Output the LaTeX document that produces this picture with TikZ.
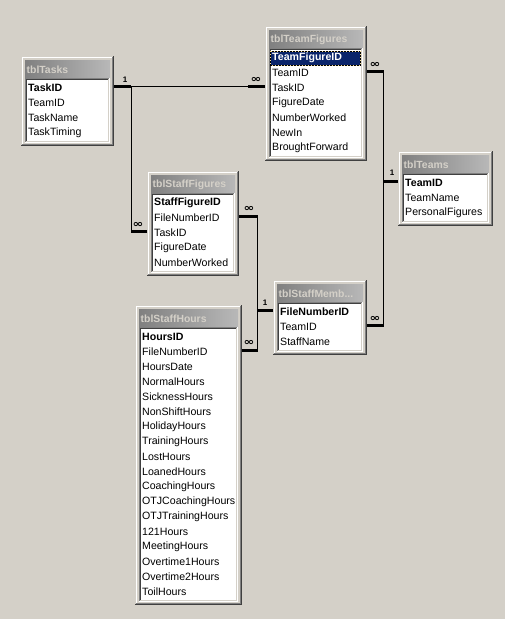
\documentclass[tikz,border=0pt]{standalone}
\usepackage{fontspec}
\setmainfont{Liberation Sans}
\newfontfamily\dejavu{DejaVu Sans}
\usetikzlibrary{fit,calc}
\definecolor{cD4}{HTML}{D4D0C8}
\definecolor{c40}{HTML}{404040}
\definecolor{c80}{HTML}{808080}
\definecolor{cC0}{HTML}{B8B8B8}
\definecolor{hlblue}{HTML}{0A246A}
\definecolor{focusy}{HTML}{F5DB95}
\tikzset{
  px/.style={line width=1pt},
  rowtext/.style={anchor=west,inner sep=0pt,font=\fontsize{10.6}{12}\selectfont},
  titletext/.style={anchor=west,inner sep=0pt,text=cD4,font=\fontsize{10.4}{13}\selectfont\bfseries},
  tblnode/.style={inner sep=0pt,draw=none},
  stub/.style={line width=3pt,line cap=butt},
  rel/.style={line width=1pt},
  onelbl/.style={inner sep=0pt,font=\fontsize{8}{9}\selectfont\bfseries},
  manylbl/.style={inner sep=0pt,xscale=1.3,font=\dejavu\fontsize{10}{10}\selectfont\bfseries}
}
\newcommand\acctbl[7]{%
  \pgfmathsetmacro\ya{#4-32}%
  \pgfmathsetmacro\yb{#4+15*(#5-1)+13}%
  \pgfmathsetmacro\lt{#4-10}%
  \pgfmathsetmacro\lb{#4+15*(#5-1)+10}%
  \node[tblnode,fit={(#2,\ya) (#3,\yb)}] (#1) {};
  \fill[cD4] (#2,\ya) rectangle (#3,\yb);
  \draw[px,white] (#2+1.5,\yb-2) -- (#2+1.5,\ya+1.5) -- (#3-2,\ya+1.5);
  \draw[px,c40] (#2,\yb-0.5) -- (#3-0.5,\yb-0.5) -- (#3-0.5,\ya);
  \draw[px,c80] (#2+1,\yb-1.5) -- (#3-1.5,\yb-1.5) -- (#3-1.5,\ya+1);
  \shade[left color=c80,right color=cC0] (#2+4,\ya+4) rectangle (#3-4,\ya+22);
  \node[titletext] (#1-title) at (#2+5.5,\ya+13.5) {#6};
  \fill[white] (#2+4,\lt) rectangle (#3-4,\lb);
  \draw[px,c80] (#2+4.5,\lb) -- (#2+4.5,\lt+0.5) -- (#3-4,\lt+0.5);
  \draw[px,c40] (#2+5.5,\lb-1) -- (#2+5.5,\lt+1.5) -- (#3-5,\lt+1.5);
  \draw[px,white] (#2+4,\lb-0.5) -- (#3-4.5,\lb-0.5) -- (#3-4.5,\lt);
  \draw[px,cD4] (#2+5,\lb-1.5) -- (#3-5.5,\lb-1.5) -- (#3-5.5,\lt+1);
  \foreach \t [count=\i] in {#7}{%
    \pgfmathsetmacro\ry{#4+15*(\i-1)}%
    \node[rowtext] (#1-\i) at (#2+7,\ry) {\ifnum\i=1 \bfseries\fi\t};
    \coordinate (#1-\i-L) at (#2,\ry-2);
    \coordinate (#1-\i-R) at (#3,\ry-2);
  }%
}
\begin{document}
\begin{tikzpicture}[x=1pt,y=-1pt]
\useasboundingbox (0,0) rectangle (505,619);
\fill[cD4] (0,0) rectangle (505,619);

\acctbl{tasks}{21}{114}{88}{4}{tblTasks}{TaskID,TeamID,TaskName,TaskTiming}
\acctbl{tf}{265}{367}{58}{7}{tblTeamFigures}{TeamFigureID,TeamID,TaskID,FigureDate,NumberWorked,NewIn,BroughtForward}
\acctbl{sf}{147}{239}{203}{5}{tblStaffFigures}{StaffFigureID,FileNumberID,TaskID,FigureDate,NumberWorked}
\acctbl{tm}{398}{493}{183}{3}{tblTeams}{TeamID,TeamName,PersonalFigures}
\acctbl{sm}{273}{367}{312}{3}{tblStaffMemb...}{FileNumberID,TeamID,StaffName}
\acctbl{sh}{135}{242}{337}{18}{tblStaffHours}{HoursID,FileNumberID,HoursDate,NormalHours,SicknessHours,NonShiftHours,HolidayHours,TrainingHours,LostHours,LoanedHours,CoachingHours,OTJCoachingHours,OTJTrainingHours,121Hours,MeetingHours,Overtime1Hours,Overtime2Hours,ToilHours}

% highlighted first row of tblTeamFigures
\fill[hlblue] (270,50.5) rectangle (361,65.5);
\draw[px,black] (270.5,51) rectangle (360.5,65);
\draw[px,focusy,dotted] (270.5,51) rectangle (360.5,65);
\node[rowtext,text=white,font=\fontsize{10.6}{12}\selectfont\bfseries] (tf-1h) at (272,58) {TeamFigureID};

% relationships
% tblTasks.TaskID -> tblTeamFigures.TaskID
\draw[stub] (tasks-1-R) -- ++(17,0) coordinate (a1);
\draw[stub] (tf-3-L) -- ++(-17,0) coordinate (a2);
\draw[rel] (a1) -- (a2);
\node[onelbl] (l1) at ($(tasks-1-R)+(11,-6)$) {1};
\node[manylbl] (m1) at ($(tf-3-L)+(-9,-6)$) {∞};

% tblTasks.TaskID -> tblStaffFigures.TaskID
\draw[stub] (sf-3-L) -- ++(-16,0) coordinate (b2);
\draw[rel] (a1) |- (b2);
\node[manylbl] (m2) at ($(sf-3-L)+(-9,-6)$) {∞};

% tblStaffFigures.FileNumberID -> tblStaffMembers.FileNumberID
\draw[stub] (sf-2-R) -- ++(18.5,0) coordinate (c1);
\draw[stub] (sm-1-L) -- ++(-15.5,0) coordinate (c2);
\draw[rel] (c1) |- (c2);
\node[manylbl] (m3) at ($(sf-2-R)+(10,-7)$) {∞};
\node[onelbl] (l2) at ($(sm-1-L)+(-8,-7)$) {1};

% tblStaffMembers.FileNumberID -> tblStaffHours.FileNumberID
\draw[stub] (sh-2-R) -- ++(15.5,0) coordinate (d1);
\draw[rel] (c2) |- (d1);
\node[manylbl] (m4) at ($(sh-2-R)+(7,-7)$) {∞};

% tblTeams.TeamID -> tblStaffMembers.TeamID and tblTeamFigures.TeamID
\draw[stub] (sm-2-R) -- ++(16.5,0) coordinate (e1);
\draw[stub] (tm-1-L) -- ++(-15.5,0) coordinate (e2);
\draw[stub] (tf-2-R) -- ++(16.5,0) coordinate (f1);
\draw[rel] (e1) |- (e2);
\draw[rel] (f1) |- (e2);
\node[manylbl] (m5) at ($(sm-2-R)+(8,-6)$) {∞};
\node[manylbl] (m6) at ($(tf-2-R)+(8,-6)$) {∞};
\node[onelbl] (l3) at ($(tm-1-L)+(-6,-8)$) {1};
\end{tikzpicture}
\end{document}
